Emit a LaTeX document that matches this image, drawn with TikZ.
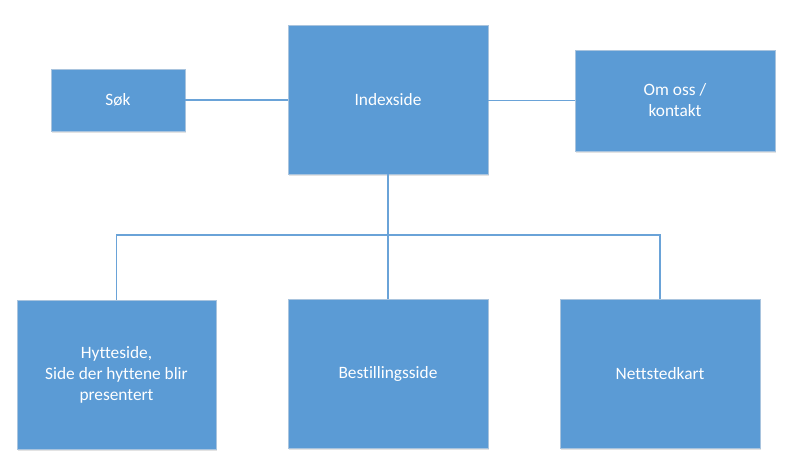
\documentclass[tikz,border=0pt]{standalone}
\usepackage{fontspec}
\setmainfont[Ligatures=NoCommon]{Carlito}
\usetikzlibrary{shadows}
\definecolor{boxblue}{HTML}{5B9BD5}
\definecolor{boxedge}{HTML}{A9C4DE}
\definecolor{linkblue}{HTML}{6AA3D8}
\begin{document}
\begin{tikzpicture}[x=0.75pt,y=-0.75pt,
  pagebox/.style={draw=boxedge, line width=0.6pt, fill=boxblue, text=white,
    font=\fontsize{13pt}{15.8pt}\selectfont, align=center, inner sep=0pt,
    drop shadow={shadow xshift=0.6pt, shadow yshift=-1.2pt, opacity=0.18, fill=black!60}},
  link/.style={draw=linkblue, line width=1.3pt}]
\useasboundingbox (0,0) rectangle (794,472);
\node[pagebox, minimum width=134*0.75pt, minimum height=62*0.75pt] (sok) at (118,100) {Søk};
\node[pagebox, minimum width=200*0.75pt, minimum height=149*0.75pt] (index) at (388,99.5) {Indexside};
\node[pagebox, minimum width=200*0.75pt, minimum height=101*0.75pt] (om) at (675,100.5) {Om oss /\\kontakt};
\node[pagebox, minimum width=199*0.75pt, minimum height=149*0.75pt] (hytte) at (116.5,374.5) {Hytteside,\\Side der hyttene blir\\presentert};
\node[pagebox, minimum width=200*0.75pt, minimum height=149*0.75pt] (best) at (388,373.5) {Bestillingsside};
\node[pagebox, minimum width=200*0.75pt, minimum height=149*0.75pt] (nett) at (660,373.5) {Nettstedkart};
\coordinate (bus) at (388,235);
\draw[link] (sok.east) -- (sok.east -| index.west);
\draw[link] (om.west -| index.east) -- (om.west);
\draw[link] (index.south) -- (best.north);
\draw[link] (hytte.north) |- (bus) -| (nett.north);
\end{tikzpicture}
\end{document}
